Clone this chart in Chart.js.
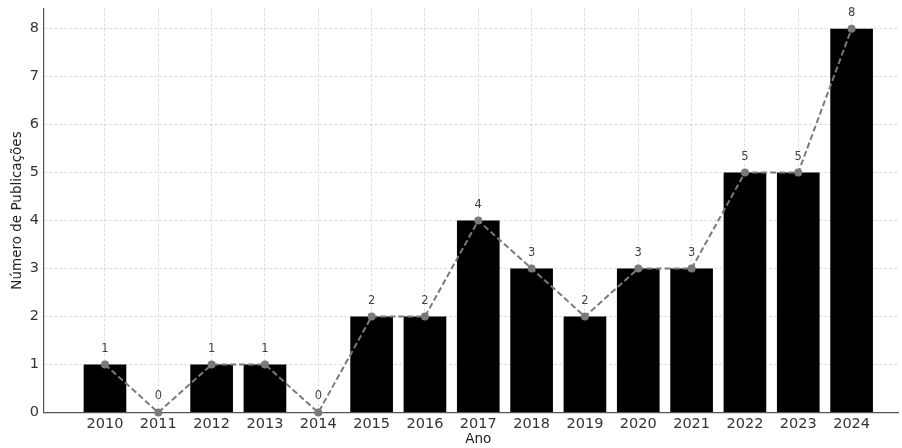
<!DOCTYPE html>
<html><head><meta charset="utf-8">
<script src="https://cdn.jsdelivr.net/npm/chart.js@4.4.1/dist/chart.umd.min.js"></script>
<style>html,body{margin:0;padding:0;background:#fff;overflow:hidden}#wrap{width:902px;height:448px;position:relative}</style>
</head><body><div id="wrap"><canvas id="c"></canvas></div>
<script>
const years = [2010, 2011, 2012, 2013, 2014, 2015, 2016, 2017, 2018, 2019, 2020, 2021, 2022, 2023, 2024];
const publications = [1, 0, 1, 1, 0, 2, 2, 4, 3, 2, 3, 3, 5, 5, 8];
const yTickValues = [0, 1, 2, 3, 4, 5, 6, 7, 8];
const xTitle = 'Ano';
const yTitle = 'Número de Publicações';

const FONT = '"DejaVu Sans", sans-serif';
const gridColor = 'rgba(170,170,170,0.5)';

const overlay = {
  id: 'overlay',
  beforeDatasetDraw(chart, args) {
    if (args.index === 1 && !chart.$lineNow) return false;
  },
  afterDraw(chart) {
    const ctx = chart.ctx;
    const meta = chart.getDatasetMeta(1);
    chart.$lineNow = true;
    ctx.save();
    meta.controller.draw();
    ctx.restore();
    chart.$lineNow = false;
    ctx.save();
    ctx.font = '11.5px ' + FONT;
    ctx.fillStyle = '#444';
    ctx.textAlign = 'center';
    ctx.textBaseline = 'middle';
    meta.data.forEach((pt, i) => ctx.fillText(String(publications[i]), pt.x, pt.y - 16));
    const xs = chart.scales.x;
    ctx.font = '13.5px ' + FONT;
    ctx.fillStyle = '#222';
    ctx.fillText(xTitle, xs.getPixelForValue((years[0] + years[years.length - 1]) / 2), 439);
    const a = chart.chartArea;
    ctx.translate(17.5, (a.top + a.bottom) / 2);
    ctx.rotate(-Math.PI / 2);
    ctx.fillText(yTitle, 0, 0);
    ctx.restore();
  }
};

new Chart(document.getElementById('c'), {
  data: {
    datasets: [
      {
        type: 'bar',
        data: years.map((y, i) => ({ x: y, y: publications[i] })),
        backgroundColor: '#000',
        borderWidth: 0,
        categoryPercentage: 1,
        barPercentage: 0.8
      },
      {
        type: 'line',
        data: years.map((y, i) => ({ x: y, y: publications[i] })),
        borderColor: '#7a7a7a',
        borderWidth: 2,
        borderDash: [6, 3],
        pointRadius: 4,
        pointBackgroundColor: '#7a7a7a',
        pointBorderWidth: 0,
        tension: 0
      }
    ]
  },
  options: {
    responsive: true,
    maintainAspectRatio: false,
    animation: false,
    layout: { padding: { left: 0, right: 0, top: 8.5, bottom: 0 } },
    plugins: { legend: { display: false }, tooltip: { enabled: false } },
    scales: {
      x: {
        type: 'linear',
        min: 2008.857,
        max: 2024.87,
        offset: false,
        z: 1,
        afterBuildTicks(s) { s.ticks = years.map(v => ({ value: v })); },
        afterFit(s) { s.height = 35.5; s.paddingLeft = 0; s.paddingRight = 0; },
        ticks: {
          autoSkip: false, maxRotation: 0, padding: 3,
          color: '#333', font: { family: FONT, size: 14.5 },
          callback: v => String(v)
        },
        grid: { color: gridColor, lineWidth: 0.8, drawTicks: false, offset: false },
        border: { display: true, color: '#555', width: 1.2, dash: [3, 2] }
      },
      y: {
        min: 0,
        max: 8.42,
        z: 1,
        afterBuildTicks(s) { s.ticks = yTickValues.map(v => ({ value: v })); },
        afterFit(s) { s.width = 44; s.paddingTop = 0; s.paddingBottom = 0; },
        ticks: {
          padding: 5, color: '#333', font: { family: FONT, size: 14.5 },
          callback: v => String(v)
        },
        grid: { color: gridColor, lineWidth: 0.8, drawTicks: false },
        border: { display: true, color: '#555', width: 1.2, dash: [3, 2] }
      }
    }
  },
  plugins: [overlay]
});
</script>
</body></html>
